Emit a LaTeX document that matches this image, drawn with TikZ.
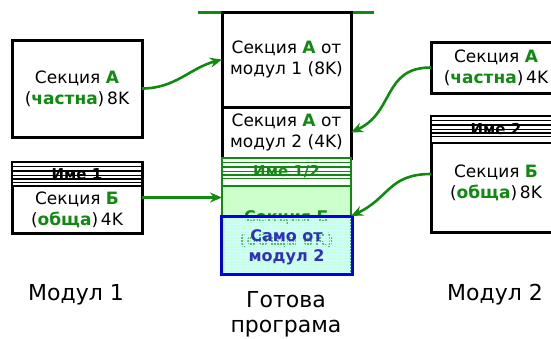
\documentclass[tikz,border=0pt]{standalone}
\usepackage{fontspec}
\setmainfont{DejaVu Sans}
\usetikzlibrary{arrows.meta}
\usetikzlibrary{calc}
\usetikzlibrary{patterns}
\definecolor{SecGreen}{HTML}{108A10}
\definecolor{LightGreen}{HTML}{CCFFCC}
\definecolor{PaleCyan}{HTML}{C8FFF0}
\definecolor{EdgeBlue}{HTML}{0000EE}
\definecolor{TextBlue}{HTML}{3030C0}
\tikzset{
  modbox/.style={draw, line width=3pt, fill=white, inner sep=0pt, outer sep=0pt,
    align=center, font=\fontsize{17}{21}\selectfont},
  hdrbox/.style={modbox, line width=2pt, font=\fontsize{15}{18}\selectfont\bfseries},
  bodytext/.style={align=center, inner sep=0pt, font=\fontsize{17}{21}\selectfont},
  link/.style={draw=SecGreen, line width=2.6pt, -{Stealth[length=12pt,width=10pt]}},
  caption/.style={align=center, font=\fontsize{22}{25}\selectfont},
}
\newcommand{\grn}[1]{\textcolor{SecGreen}{\textbf{#1}}}
\newcommand{\hdrlines}[2]{%
  \foreach \dy/\lw in {4/1,8.5/2,13/1,17/2,20.5/1}{%
    \draw[#2, line width=\lw pt] ([yshift=-\dy pt]#1.north west) -- ([yshift=-\dy pt]#1.north east);
  }}

\begin{document}
\begin{tikzpicture}[x=1pt, y=-1pt]
  \useasboundingbox (0,0) rectangle (551,338);
  \clip (0,0) rectangle (551,338);

  % Modul 1
  \node[modbox, minimum width=130pt, minimum height=97pt] (secA1) at (77,88.5)
    {Секция \grn{А}\\(\grn{частна})\,8K};
  \node[modbox, minimum width=130pt, minimum height=71pt] (modB1) at (77,197.5) {};
  \node[hdrbox, minimum width=130pt, minimum height=24pt, anchor=north] (ime1) at (modB1.north) {Име 1};
  \hdrlines{ime1}{black}
  \node[bodytext] (secB1) at ($(ime1.south)!.5!(modB1.south)$)
    {Секция \grn{Б}\\(\grn{обща})\,4K};

  % gotova programa
  \draw[SecGreen, line width=3pt] (198,12) -- (374,12);
  \node[modbox, minimum width=129pt, minimum height=95pt] (modA1) at (286.5,59.5)
    {Секция \grn{А} от\\модул 1 (8K)};
  \node[modbox, minimum width=129pt, minimum height=51pt] (modA2) at (286.5,132.5)
    {Секция \grn{А} от\\модул 2 (4K)};
  \node[modbox, draw=SecGreen, line width=2.5pt, fill=LightGreen,
    minimum width=129pt, minimum height=116pt] (grpB) at (286.5,216) {};
  \node[hdrbox, draw=SecGreen, text=SecGreen, minimum width=129pt, minimum height=28pt,
    anchor=north] (ime12) at (grpB.north) {Име 1/2};
  \hdrlines{ime12}{SecGreen}
  \node[bodytext, text=SecGreen, font=\fontsize{16}{23}\selectfont\bfseries] (secB12) at (286.5,229)
    {Секция Б\\(обща 8K)};
  \node[modbox, draw=EdgeBlue, fill=PaleCyan, fill opacity=0.4,
    minimum width=131pt, minimum height=58pt] (only2) at (286.5,245) {};
  \fill[pattern=grid, pattern color=cyan!20] (only2.south west) rectangle (only2.north east);
  \draw[EdgeBlue, line width=3pt] (only2.south west) rectangle (only2.north east);
  \node[bodytext, text=TextBlue, font=\fontsize{16}{20}\selectfont\bfseries] (only2txt) at (286.5,247)
    {Само от\\модул 2};

  % Modul 2
  \node[modbox, minimum width=130pt, minimum height=51pt] (secA2) at (496,67.5)
    {Секция \grn{А}\\(\grn{частна})\,4K};
  \node[modbox, minimum width=130pt, minimum height=116pt] (modB2) at (496,174) {};
  \node[hdrbox, minimum width=130pt, minimum height=27pt, anchor=north] (ime2) at (modB2.north) {Име 2};
  \hdrlines{ime2}{black}
  \node[bodytext] (secB2) at (496,183) {Секция \grn{Б}\\(\grn{обща})\,8K};

  \draw[link] (secA1.east) to[out=0, in=195] (modA1.west);
  \draw[link] (modB1.east) -- (grpB.west |- modB1.east);
  \draw[link] (secA2.west) to[out=180, in=25, looseness=1.2] (modA2.east);
  \draw[link] (modB2.west) to[out=180, in=25, looseness=1.2] (grpB.east);

  \node[caption] (mod1) at (76,295) {Модул 1};
  \node[caption] (ready) at (286,314) {Готова\\програма};
  \node[caption] (mod2) at (495,295) {Модул 2};
\end{tikzpicture}
\end{document}
